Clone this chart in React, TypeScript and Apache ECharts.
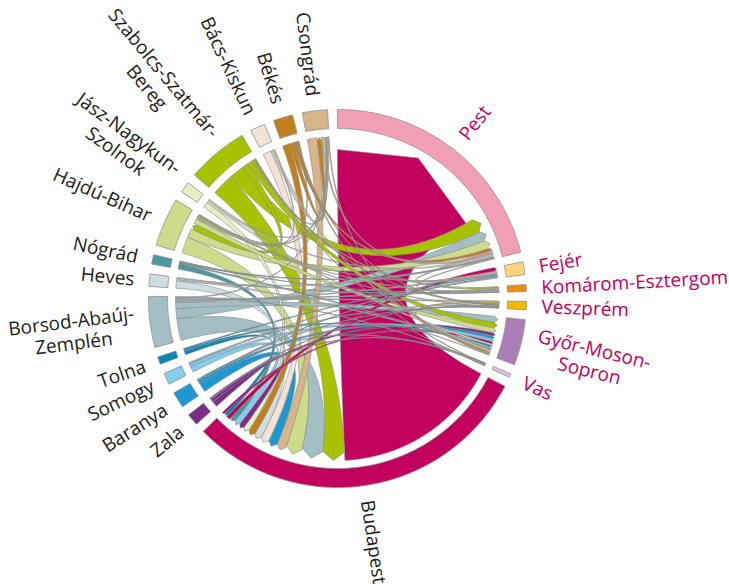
import React, { useEffect, useRef } from "react";
import * as echarts from "echarts";

// ---- DATA ----
const nodeNames = [
  "Pest", "Fejér", "Komárom-Esztergom", "Veszprém", "Győr-Moson-Sopron", "Vas",
  "Budapest", "Zala", "Baranya", "Somogy", "Tolna", "Borsod-Abaúj-Zemplén",
  "Heves", "Nógrád", "Hajdú-Bihar", "Jász-Nagykun-Szolnok", "Szabolcs-Szatmár-Bereg",
  "Bács-Kiskun", "Békés", "Csongrád",
];
const nodeLabels = [
  "Pest", "Fejér", "Komárom-Esztergom", "Veszprém", "Győr-Moson-\nSopron", "Vas",
  "Budapest", "Zala", "Baranya", "Somogy", "Tolna", "Borsod-Abaúj-\nZemplén",
  "Heves", "Nógrád", "Hajdú-Bihar", "Jász-Nagykun-\nSzolnok", "Szabolcs-Szatmár-\nBereg",
  "Bács-Kiskun", "Békés", "Csongrád",
];
const nodeColors = [
  "#f19fb5", "#ffd47f", "#ef8c00", "#f9b800", "#ab7eb5", "#d6c4e1",
  "#c2005e", "#7b2d87", "#1e96d2", "#84cdee", "#0087b9", "#a3bfc4",
  "#cfdfe0", "#4c96a0", "#ccdc8a", "#e4edc4", "#a8c200",
  "#f2e3d6", "#c1801e", "#d7b48a",
];
const gainingRegions = ["Pest", "Fejér", "Komárom-Esztergom", "Veszprém", "Győr-Moson-Sopron", "Vas"];

// [from, to, value]
const flows: [string, string, number][] = [
  ["Budapest", "Pest", 595],
  ["Szabolcs-Szatmár-Bereg", "Budapest", 80],
  ["Borsod-Abaúj-Zemplén", "Budapest", 78],
  ["Hajdú-Bihar", "Budapest", 58],
  ["Bács-Kiskun", "Budapest", 30],
  ["Csongrád", "Budapest", 34],
  ["Baranya", "Budapest", 33],
  ["Heves", "Budapest", 26],
  ["Jász-Nagykun-Szolnok", "Budapest", 20],
  ["Békés", "Budapest", 25],
  ["Zala", "Budapest", 20],
  ["Somogy", "Budapest", 20],
  ["Nógrád", "Budapest", 18],
  ["Tolna", "Budapest", 13],
  ["Budapest", "Fejér", 14],
  ["Budapest", "Győr-Moson-Sopron", 8],
  ["Szabolcs-Szatmár-Bereg", "Pest", 52],
  ["Borsod-Abaúj-Zemplén", "Pest", 36],
  ["Hajdú-Bihar", "Pest", 32],
  ["Békés", "Pest", 10],
  ["Pest", "Fejér", 7],
  ["Pest", "Komárom-Esztergom", 3],
  ["Jász-Nagykun-Szolnok", "Pest", 5],
  ["Nógrád", "Pest", 4],
  ["Heves", "Pest", 5],
  ["Csongrád", "Pest", 6],
  ["Szabolcs-Szatmár-Bereg", "Hajdú-Bihar", 22],
  ["Szabolcs-Szatmár-Bereg", "Győr-Moson-Sopron", 20],
  ["Szabolcs-Szatmár-Bereg", "Komárom-Esztergom", 6],
  ["Szabolcs-Szatmár-Bereg", "Veszprém", 3],
  ["Szabolcs-Szatmár-Bereg", "Vas", 2],
  ["Szabolcs-Szatmár-Bereg", "Csongrád", 3],
  ["Borsod-Abaúj-Zemplén", "Győr-Moson-Sopron", 22],
  ["Borsod-Abaúj-Zemplén", "Fejér", 5],
  ["Borsod-Abaúj-Zemplén", "Komárom-Esztergom", 5],
  ["Borsod-Abaúj-Zemplén", "Veszprém", 5],
  ["Borsod-Abaúj-Zemplén", "Vas", 2],
  ["Borsod-Abaúj-Zemplén", "Csongrád", 3],
  ["Hajdú-Bihar", "Győr-Moson-Sopron", 18],
  ["Hajdú-Bihar", "Fejér", 3],
  ["Hajdú-Bihar", "Komárom-Esztergom", 3],
  ["Hajdú-Bihar", "Veszprém", 2],
  ["Hajdú-Bihar", "Csongrád", 4],
  ["Hajdú-Bihar", "Bács-Kiskun", 4],
  ["Jász-Nagykun-Szolnok", "Győr-Moson-Sopron", 6],
  ["Jász-Nagykun-Szolnok", "Csongrád", 3],
  ["Heves", "Győr-Moson-Sopron", 5],
  ["Heves", "Komárom-Esztergom", 2],
  ["Nógrád", "Győr-Moson-Sopron", 5],
  ["Nógrád", "Komárom-Esztergom", 2],
  ["Békés", "Csongrád", 15],
  ["Békés", "Győr-Moson-Sopron", 4],
  ["Békés", "Veszprém", 3],
  ["Békés", "Hajdú-Bihar", 3],
  ["Csongrád", "Győr-Moson-Sopron", 3],
  ["Bács-Kiskun", "Csongrád", 6],
  ["Bács-Kiskun", "Győr-Moson-Sopron", 5],
  ["Baranya", "Győr-Moson-Sopron", 10],
  ["Baranya", "Fejér", 3],
  ["Baranya", "Veszprém", 2],
  ["Baranya", "Vas", 2],
  ["Somogy", "Győr-Moson-Sopron", 10],
  ["Somogy", "Fejér", 3],
  ["Somogy", "Veszprém", 3],
  ["Tolna", "Fejér", 4],
  ["Tolna", "Győr-Moson-Sopron", 6],
  ["Zala", "Győr-Moson-Sopron", 11],
  ["Zala", "Veszprém", 3],
  ["Zala", "Vas", 3],
  ["Veszprém", "Győr-Moson-Sopron", 5],
  ["Vas", "Győr-Moson-Sopron", 2],
];

// gap between sectors, in flow units
const GAP = 30;

// ---- LAYOUT (value space) ----
function buildLayout() {
  const n = nodeNames.length;
  const index: Record<string, number> = {};
  nodeNames.forEach((nm, i) => (index[nm] = i));
  const totals = new Array(n).fill(0);
  flows.forEach(([s, t, v]) => {
    totals[index[s]] += v;
    totals[index[t]] += v;
  });
  const sum = totals.reduce((a: number, b: number) => a + b, 0);
  const axisMax = sum + GAP * n;
  const starts: number[] = [];
  let cur = 0;
  for (let i = 0; i < n; i++) {
    starts.push(cur);
    cur += totals[i] + GAP;
  }
  const src: [number, number][] = flows.map(() => [0, 0]);
  const tgt: [number, number][] = flows.map(() => [0, 0]);
  for (let i = 0; i < n; i++) {
    const items: { l: number; role: string; v: number }[] = [];
    flows.forEach(([s, t, v], l) => {
      if (index[s] === i) items.push({ l, role: "src", v });
      if (index[t] === i) items.push({ l, role: "tgt", v });
    });
    items.sort((a, b) => b.v - a.v);
    let p = starts[i];
    items.forEach((it) => {
      const span: [number, number] = [p, p + it.v];
      if (it.role === "src") src[it.l] = span;
      else tgt[it.l] = span;
      p += it.v;
    });
  }
  return { index, totals, starts, axisMax, src, tgt };
}

const R_OUT = 189;
const R_IN = 170;
const R_CH = 162;
const LABEL_R = 204;
const FONT_SIZE = 19;
const FONT_FAMILY = '"Open Sans", "Noto Sans", sans-serif';

function measure(text: string): number {
  const cv = document.createElement("canvas");
  const ctx = cv.getContext("2d");
  if (!ctx) return text.length * FONT_SIZE * 0.55;
  ctx.font = `${FONT_SIZE}px ${FONT_FAMILY}`;
  return Math.max(...text.split("\n").map((s) => ctx.measureText(s).width));
}

export default function App() {
  const ref = useRef<HTMLDivElement>(null);

  useEffect(() => {
    if (!ref.current) return;
    const chart = echarts.init(ref.current, null, { renderer: "svg" });
    const L = buildLayout();
    const ribbonOrder = flows.map((_, l) => l).sort((a, b) => flows[b][2] - flows[a][2]);

    const arcPts = (api: any, r: number, a: number, b: number, out: number[][]) => {
      const steps = Math.max(2, Math.ceil(Math.abs(b - a) / 4));
      for (let k = 0; k <= steps; k++) out.push(api.coord([r, a + ((b - a) * k) / steps]));
    };
    const quad = (p0: number[], c: number[], p1: number[], out: number[][]) => {
      const N = 28;
      for (let k = 1; k <= N; k++) {
        const t = k / N;
        const u = 1 - t;
        out.push([
          u * u * p0[0] + 2 * u * t * c[0] + t * t * p1[0],
          u * u * p0[1] + 2 * u * t * c[1] + t * t * p1[1],
        ]);
      }
    };

    const option: any = {
      animation: false,
      polar: { center: [337.5, 298.5], radius: R_OUT },
      angleAxis: { type: "value", min: 0, max: L.axisMax, startAngle: 90, clockwise: true, show: false },
      radiusAxis: { type: "value", min: 0, max: R_OUT, show: false },
      series: [
        {
          type: "custom",
          name: "flows",
          coordinateSystem: "polar",
          data: ribbonOrder.map(() => [0, 0]),
          renderItem: (params: any, api: any) => {
            const l = ribbonOrder[params.dataIndex];
            const [a0, a1] = L.src[l];
            const [b0, b1] = L.tgt[l];
            const c = api.coord([0, 0]);
            const pts: number[][] = [];
            arcPts(api, R_CH, a0, a1, pts);
            const pb0 = api.coord([R_CH, b0]);
            const pb1 = api.coord([R_CH, b1]);
            const w = Math.hypot(pb1[0] - pb0[0], pb1[1] - pb0[1]);
            const depth = Math.min(13, 1.5 + 0.3 * w);
            const rb = R_CH - depth;
            quad(pts[pts.length - 1], c, api.coord([rb, b0]), pts);
            pts.push(api.coord([R_CH, (b0 + b1) / 2]));
            pts.push(api.coord([rb, b1]));
            const back: number[][] = [];
            quad(api.coord([rb, b1]), c, api.coord([R_CH, a0]), back);
            back.pop();
            pts.push(...back);
            return {
              type: "polygon",
              shape: { points: pts },
              style: {
                fill: nodeColors[L.index[flows[l][0]]],
                stroke: "#8c8c8c",
                lineWidth: 0.6,
              },
            };
          },
          z: 2,
        },
        {
          type: "custom",
          name: "regions",
          coordinateSystem: "polar",
          data: nodeNames.map(() => [0, 0]),
          renderItem: (params: any, api: any) => {
            const i = params.dataIndex;
            const s = L.starts[i];
            const e = s + L.totals[i];
            const outer: number[][] = [];
            const inner: number[][] = [];
            arcPts(api, R_OUT, s, e, outer);
            arcPts(api, R_IN, s, e, inner);
            return {
              type: "polygon",
              shape: { points: outer.concat(inner.reverse()) },
              style: { fill: nodeColors[i], stroke: "#8f8f8f", lineWidth: 0.8 },
            };
          },
          z: 3,
        },
        {
          type: "custom",
          name: "labels",
          coordinateSystem: "polar",
          data: nodeNames.map(() => [0, 0]),
          renderItem: (params: any, api: any) => {
            const i = params.dataIndex;
            const mid = L.starts[i] + L.totals[i] / 2;
            const c = api.coord([0, 0]);
            const p = api.coord([LABEL_R, mid]);
            const vx = p[0] - c[0];
            const vy = p[1] - c[1];
            const len = Math.hypot(vx, vy);
            const ux = vx / len;
            const uy = vy / len;
            const text = nodeLabels[i];
            const w = measure(text);
            const x = c[0] + ux * (len + w / 2);
            const y = c[1] + uy * (len + w / 2);
            const phi = Math.atan2(-uy, ux);
            const rightSide = mid / L.axisMax < 0.5;
            const rot = rightSide ? phi : phi + Math.PI;
            const isGain = gainingRegions.indexOf(nodeNames[i]) >= 0;
            return {
              type: "text",
              x,
              y,
              rotation: rot,
              style: {
                text,
                fill: isGain ? "#c4005a" : "#1d1d1b",
                fontSize: FONT_SIZE,
                fontFamily: FONT_FAMILY,
                align: "center",
                verticalAlign: "middle",
                lineHeight: 22,
              },
            };
          },
          z: 4,
        },
      ],
    };
    chart.setOption(option);
    return () => chart.dispose();
  }, []);

  return (
    <div
      ref={ref}
      style={{ position: "fixed", left: 0, top: 0, width: 729, height: 584, background: "#ffffff" }}
    />
  );
}
